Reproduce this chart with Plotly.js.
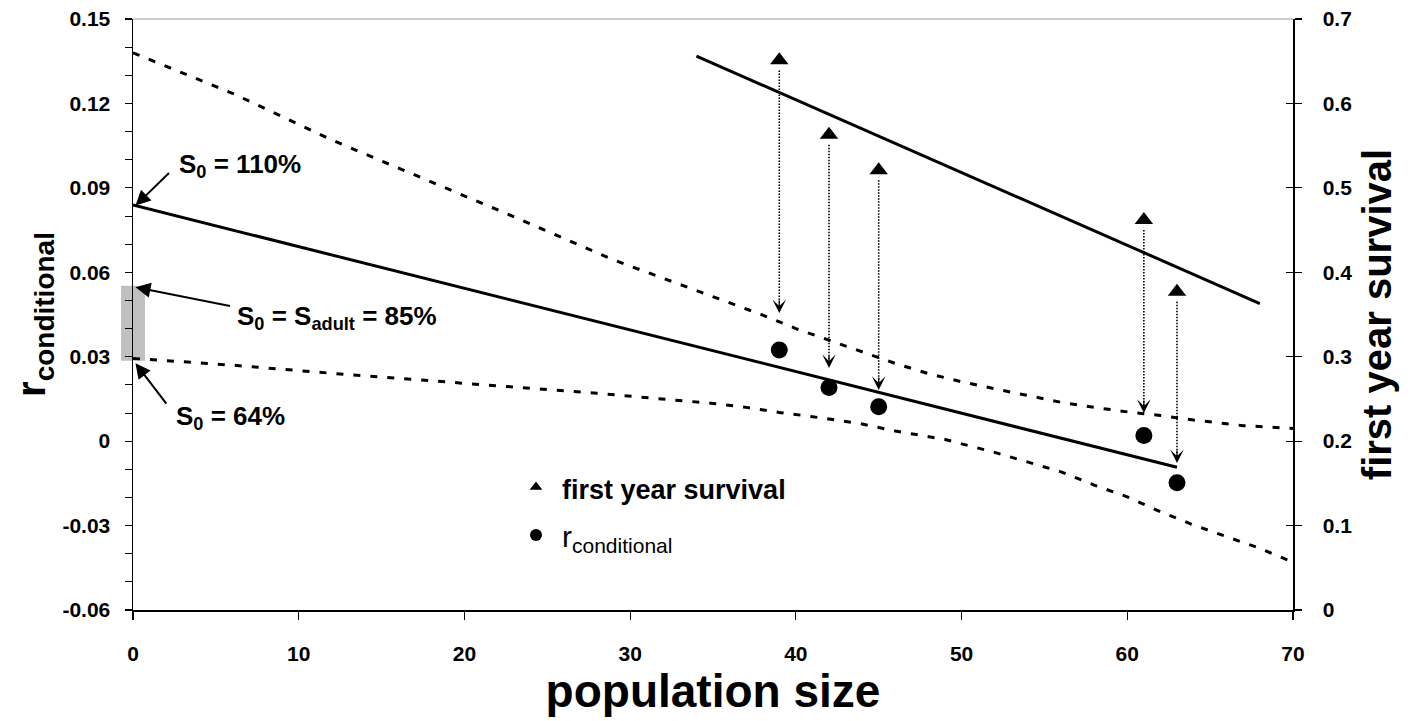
<!DOCTYPE html>
<html><head><meta charset="utf-8">
<script src="https://cdn.plot.ly/plotly-3.0.1.min.js"></script>
<style>html,body{margin:0;padding:0;background:#fff}#chart{width:1421px;height:721px}</style>
</head><body><div id="chart"></div>
<script>
// ---- data ----
const popSize = [39, 42, 45, 61, 63];
const firstYearSurvival = [0.651, 0.563, 0.521, 0.462, 0.377];
const rConditional = [0.0324, 0.0191, 0.0122, 0.0020, -0.0148];

const survFitX = [34, 68];
const survFitY = [0.656, 0.363];

const rFitX = [0, 63];
const rFitY = [0.0839, -0.0093];

const upperBandX = [0, 6, 12, 17, 23, 29, 35, 38, 40, 42, 44, 46, 48, 50, 52, 56, 58, 60, 62, 64, 67, 70];
const upperBandY = [0.138, 0.1236, 0.107, 0.0946, 0.0797, 0.0644, 0.0515, 0.0448, 0.0400, 0.0358, 0.0318, 0.0276, 0.0240, 0.0211, 0.0186, 0.0138, 0.0120, 0.0104, 0.0091, 0.0075, 0.0055, 0.0045];

const lowerBandX = [0, 6, 12, 17.5, 23, 28, 35, 37, 39, 41, 44, 46, 49, 52, 56, 58, 60, 62, 64, 66, 68, 70];
const lowerBandY = [0.0294, 0.027, 0.0241, 0.0217, 0.0193, 0.017, 0.0134, 0.012, 0.0102, 0.0087, 0.0061, 0.0036, 0.0006, -0.0040, -0.0109, -0.0156, -0.0198, -0.0251, -0.0298, -0.034, -0.0381, -0.043];

const arrowTipR = [0.0455, 0.026, 0.0182, 0.010, -0.0078];

const xTickVals = [0, 10, 20, 30, 40, 50, 60, 70];
const rTickVals = [-0.06, -0.03, 0, 0.03, 0.06, 0.09, 0.12, 0.15];
const rTickText = ['-0.06', '-0.03', '0', '0.03', '0.06', '0.09', '0.12', '0.15'];
const survTickVals = [0, 0.1, 0.2, 0.3, 0.4, 0.5, 0.6, 0.7];
const survTickText = ['0', '0.1', '0.2', '0.3', '0.4', '0.5', '0.6', '0.7'];

const s0Labels = ['S<sub>0</sub> = 110%', 'S<sub>0</sub> = S<sub>adult</sub> = 85%', 'S<sub>0</sub> = 64%'];
const s0TipR = [0.0837, 0.0547, 0.0277];
const adultBandR = [0.0286, 0.0552];

const legendNames = ['<span style="font-size:27px"><b>first year survival</b></span>', 'r<sub>conditional</sub>'];

// ---- chart ----
const FONT = 'Liberation Sans, Arial, Helvetica, sans-serif';
const rRange = [-0.06, 0.15];
const sRange = [0, 0.7];
const toSurvScale = r => (r - rRange[0]) / (rRange[1] - rRange[0]) * (sRange[1] - sRange[0]) + sRange[0];

const traces = [
  {x: upperBandX, y: upperBandY, yaxis: 'y', mode: 'lines', line: {color: '#000', width: 3, dash: '7px,10px'}, showlegend: false, hoverinfo: 'skip'},
  {x: lowerBandX, y: lowerBandY, yaxis: 'y', mode: 'lines', line: {color: '#000', width: 3, dash: '7px,10px'}, showlegend: false, hoverinfo: 'skip'},
  {x: rFitX, y: rFitY, yaxis: 'y', mode: 'lines', line: {color: '#000', width: 3}, showlegend: false},
  {x: survFitX, y: survFitY, yaxis: 'y2', mode: 'lines', line: {color: '#000', width: 3}, showlegend: false},
  {x: popSize, y: rConditional, yaxis: 'y', mode: 'markers', marker: {symbol: 'circle', size: 17, color: '#000'}, showlegend: false},
  {x: popSize, y: firstYearSurvival, yaxis: 'y2', mode: 'markers', marker: {symbol: 'triangle-up', size: 16, color: '#000'}, showlegend: false},
  // legend entries
  {x: [null], y: [null], yaxis: 'y2', mode: 'markers', marker: {symbol: 'triangle-up', size: 11, color: '#000'}, name: legendNames[0], legendgroup: 'a'},
  {x: [null], y: [null], yaxis: 'y', mode: 'markers', marker: {symbol: 'circle', size: 12, color: '#000'}, name: legendNames[1], legendgroup: 'b'},
  {x: [null], y: [null], yaxis: 'y3', mode: 'markers', showlegend: false}
];

const shapes = [
  {type: 'rect', xref: 'paper', yref: 'y', x0: -0.0103, x1: 0.0103, y0: adultBandR[0], y1: adultBandR[1], fillcolor: '#c0c0c0', line: {width: 0}, layer: 'below'},
  {type: 'line', xref: 'paper', yref: 'paper', x0: 0, x1: 1, y0: 1, y1: 1, line: {color: '#9a9a9a', width: 1.2}}
];
popSize.forEach((x, i) => {
  shapes.push({type: 'line', xref: 'x', yref: 'y2', x0: x, x1: x,
    y0: firstYearSurvival[i] - 0.012, y1: toSurvScale(arrowTipR[i]) + 0.004,
    line: {color: '#000', width: 1.6, dash: '1.5px,1.5px'}});
});

const annotations = [];
popSize.forEach((x, i) => {
  annotations.push({x: x, y: arrowTipR[i], xref: 'x', yref: 'y', text: '', showarrow: true,
    arrowhead: 3, arrowsize: 1.9, arrowwidth: 1.2, arrowcolor: '#000', ax: 0, ay: -14});
});
const s0ArrowOffsets = [[35, -34], [96, 19], [32, 42]];
const s0TextPos = [[2.65, 0.0981], [6.16, 0.0438], [2.45, 0.0084]];
s0Labels.forEach((t, i) => {
  annotations.push({x: 0.15, y: s0TipR[i], xref: 'x', yref: 'y', text: '', showarrow: true,
    arrowhead: 2, arrowsize: 1.5, arrowwidth: 2, arrowcolor: '#000', ax: s0ArrowOffsets[i][0], ay: s0ArrowOffsets[i][1]});
  annotations.push({x: s0TextPos[i][0], y: s0TextPos[i][1], xref: 'x', yref: 'y', text: t, showarrow: false,
    xanchor: 'left', yanchor: 'middle', font: {family: FONT, size: 26, weight: 'bold', color: '#000'}});
});

const tickFont = {family: FONT, size: 21, weight: 'bold', color: '#000'};

const layout = {
  width: 1421, height: 721,
  margin: {l: 133, r: 128, t: 19, b: 111},
  paper_bgcolor: '#fff', plot_bgcolor: 'rgba(0,0,0,0)',
  font: {family: FONT, color: '#000'},
  showlegend: true,
  legend: {x: 0.325, y: 0.252, xanchor: 'left', yanchor: 'top', bgcolor: 'rgba(0,0,0,0)',
    font: {family: FONT, size: 30, color: '#000'}, tracegroupgap: 6, itemwidth: 42},
  xaxis: {range: [0, 70], tickmode: 'array', tickvals: xTickVals, ticks: 'outside', ticklen: 8, tickwidth: 1.2, tickcolor: '#000',
    showline: true, linecolor: '#000', linewidth: 1.5, showgrid: false, zeroline: false, tickfont: tickFont, ticklabelstandoff: 16,
    title: {text: 'population size', font: {family: FONT, size: 46, weight: 'bold', color: '#000'}, standoff: 0}},
  yaxis: {range: rRange, tickmode: 'array', tickvals: rTickVals, ticktext: rTickText, ticks: 'outside', ticklen: 7, tickwidth: 1.2, tickcolor: '#000',
    minor: {tickmode: 'linear', tick0: 0, dtick: 0.01, ticks: 'outside', ticklen: 7, tickwidth: 1, tickcolor: '#000', showgrid: false},
    showline: true, linecolor: '#000', linewidth: 1.5, showgrid: false, zeroline: false, tickfont: tickFont, ticklabelstandoff: 10,
    title: {text: 'r<sub>conditional</sub>', font: {family: FONT, size: 40, weight: 'bold', color: '#000'}, standoff: 4}},
  yaxis2: {range: sRange, overlaying: 'y', side: 'right', anchor: 'x', tickmode: 'array', tickvals: survTickVals, ticktext: survTickText,
    ticks: 'outside', ticklen: 7, tickwidth: 1.2, tickcolor: '#000', showline: true, linecolor: '#000', linewidth: 1.5,
    showgrid: false, zeroline: false, tickfont: tickFont, ticklabelstandoff: 17,
    title: {text: 'first year survival', font: {family: FONT, size: 40, weight: 'bold', color: '#000'}, standoff: 12}},
  yaxis3: {range: sRange, overlaying: 'y', side: 'right', anchor: 'x', tickmode: 'array', tickvals: survTickVals,
    ticks: 'inside', ticklen: 7, tickwidth: 1.2, tickcolor: '#000', showticklabels: false, showline: false, showgrid: false, zeroline: false},
  shapes: shapes,
  annotations: annotations
};

Plotly.newPlot('chart', traces, layout, {displayModeBar: false, staticPlot: true});
</script>
</body></html>
